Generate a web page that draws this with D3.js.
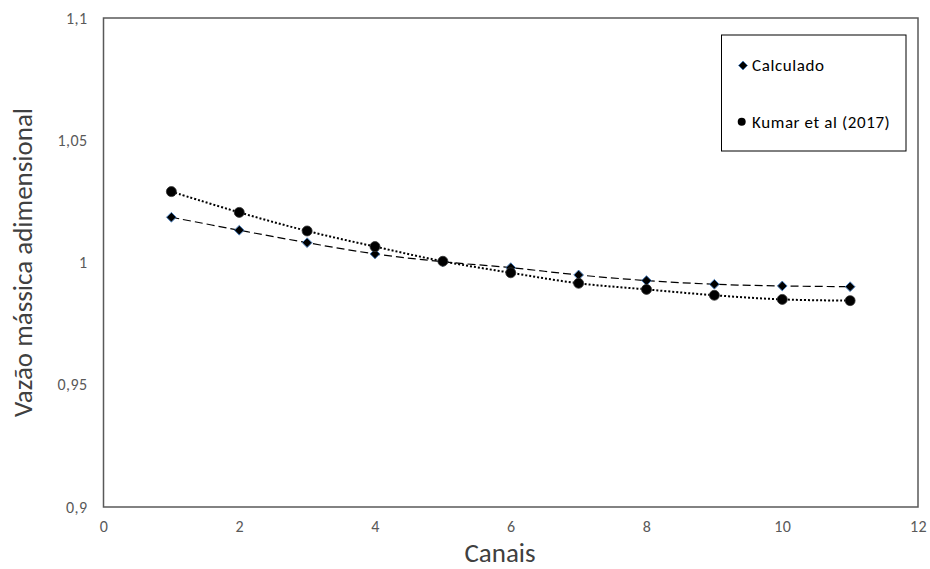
<!DOCTYPE html>
<html><head><meta charset="utf-8">
<script src="https://cdn.jsdelivr.net/npm/d3@7"></script>
<style>body{margin:0;background:#fff}svg{display:block}</style>
</head><body>
<script>
const canais = [1,2,3,4,5,6,7,8,9,10,11];
const calculado = [1.0185,1.0132,1.0081,1.0035,1.0003,0.9979,0.9949,0.9926,0.9911,0.9904,0.9901];
const kumar = [1.0290,1.0205,1.0129,1.0065,1.0005,0.9958,0.9915,0.9890,0.9866,0.9849,0.9844];
const xTicks = [0,2,4,6,8,10,12];
const yTicks = [0.9,0.95,1,1.05,1.1];
const seriesNames = ["Calculado","Kumar et al (2017)"];

const W=930,H=569;
const svg=d3.select("body").append("svg").attr("width",W).attr("height",H);
const L=103.5,R=918,T=18,B=507;
const x=d3.scaleLinear().domain([0,12]).range([L,R]);
const y=d3.scaleLinear().domain([0.9,1.1]).range([B,T]);
const font="Carlito, Calibri, Lato, sans-serif";

// frame
svg.append("rect").attr("x",L).attr("y",T).attr("width",R-L).attr("height",B-T)
  .attr("fill","none").attr("stroke","#595959").attr("stroke-width",1.5);

// axes labels
const fmt=d=>String(d).replace(".",",");
const xa=svg.append("g").attr("transform",`translate(0,${B})`)
  .call(d3.axisBottom(x).tickValues(xTicks).tickSize(0).tickPadding(14).tickFormat(fmt));
const ya=svg.append("g").attr("transform",`translate(${L},0)`)
  .call(d3.axisLeft(y).tickValues(yTicks).tickSize(0).tickPadding(16).tickFormat(fmt));
[xa,ya].forEach(g=>{g.select(".domain").remove();
  g.selectAll("text").attr("fill","#595959").style("font-family",font).style("font-size","16px")
   .style("letter-spacing","0.4px");});

svg.append("text").attr("x",500).attr("y",562).attr("text-anchor","middle")
  .attr("fill","#404040").style("font-family",font).style("font-size","27px").text("Canais");
svg.append("text").attr("transform",`translate(32,${(T+B)/2}) rotate(-90)`).attr("text-anchor","middle")
  .attr("fill","#404040").style("font-family",font).style("font-size","27px").text("Vazão mássica adimensional");

// lines
const line=d3.line().x(d=>x(d[0])).y(d=>y(d[1])).curve(d3.curveCatmullRom);
const calcPts=canais.map((c,i)=>[c,calculado[i]]);
const kumPts=canais.map((c,i)=>[c,kumar[i]]);
svg.append("path").attr("d",line(calcPts)).attr("fill","none").attr("stroke","#000")
  .attr("stroke-width",1.2).attr("stroke-dasharray","8,4");
svg.append("path").attr("d",line(kumPts)).attr("fill","none").attr("stroke","#000")
  .attr("stroke-width",2).attr("stroke-dasharray","2,2");

const diamond=d3.symbol().type(d3.symbolDiamond2).size(60);
svg.selectAll(".dm").data(calcPts).join("path").attr("class","dm")
  .attr("transform",d=>`translate(${x(d[0])},${y(d[1])})`).attr("d",diamond)
  .attr("fill","#000").attr("stroke","#4a7ebb").attr("stroke-width",1);
svg.selectAll(".ck").data(kumPts).join("circle").attr("class","ck")
  .attr("cx",d=>x(d[0])).attr("cy",d=>y(d[1])).attr("r",5).attr("fill","#000")
  .attr("stroke","#333").attr("stroke-width",0.8);

// legend
const lg=svg.append("g");
lg.append("rect").attr("x",721.5).attr("y",35).attr("width",184.5).attr("height",116)
  .attr("fill","#fff").attr("stroke","#000").attr("stroke-width",1);
lg.append("path").attr("transform","translate(743,65.5)").attr("d",d3.symbol().type(d3.symbolDiamond2).size(50))
  .attr("fill","#000").attr("stroke","#4a7ebb").attr("stroke-width",1);
lg.append("circle").attr("cx",741.7).attr("cy",121.7).attr("r",4).attr("fill","#000");
lg.selectAll("text").data(seriesNames).join("text").attr("x",752).attr("y",(d,i)=>i?127.5:71)
  .attr("fill","#000").style("font-family",font).style("font-size","17px").style("letter-spacing","0.6px").text(d=>d);
</script>
</body></html>
